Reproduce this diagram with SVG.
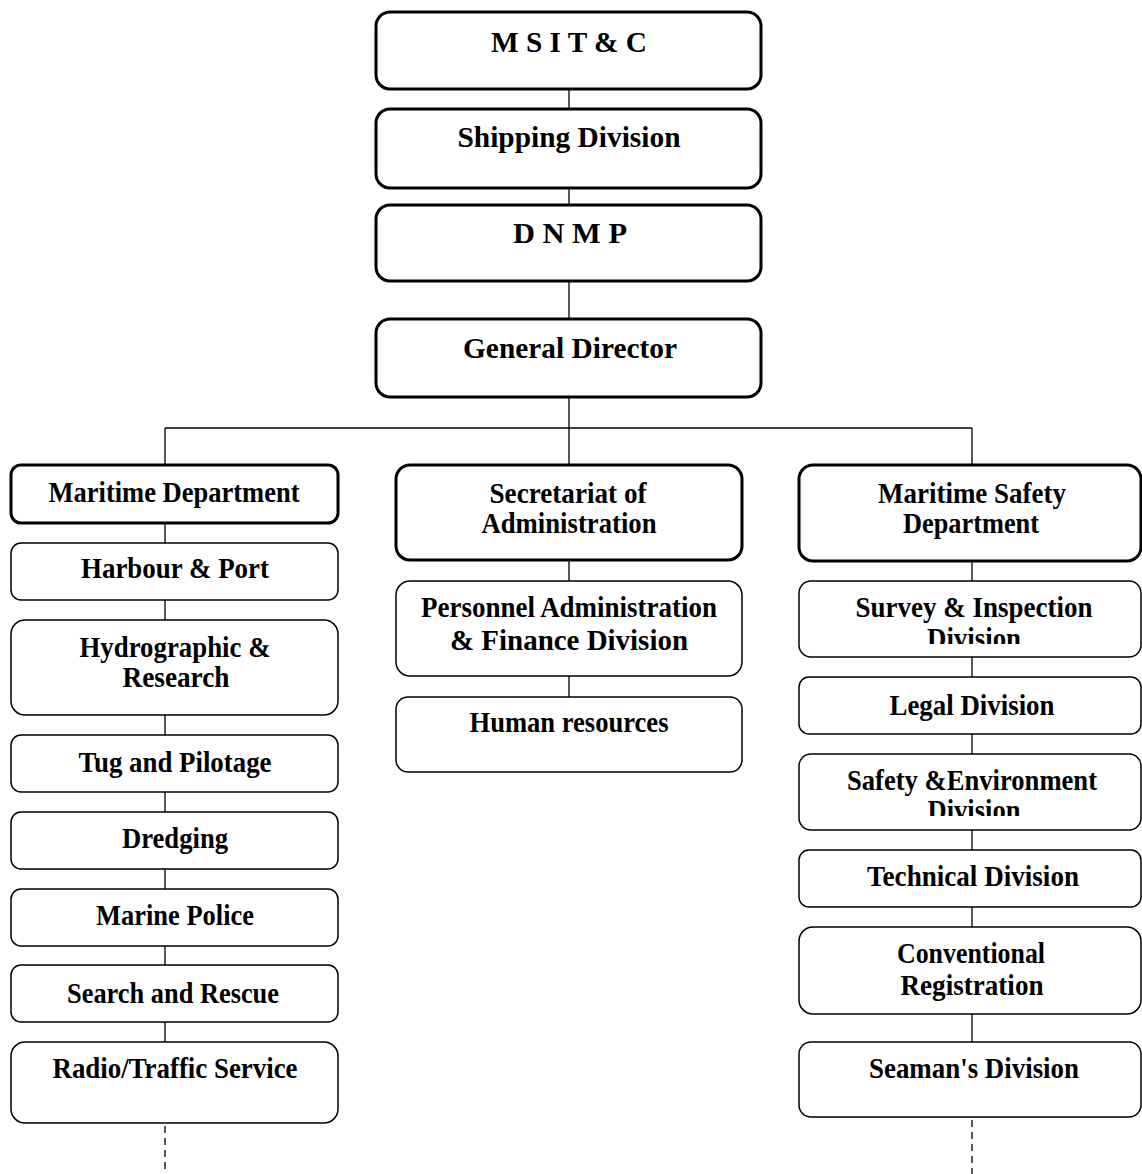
<svg xmlns="http://www.w3.org/2000/svg" width="1142" height="1174" viewBox="0 0 1142 1174">
  <style>
    .box { fill: #fff; stroke: #000; stroke-width: 1.5; }
    .main { stroke-width: 3; }
    .lbl { font-family: "Liberation Serif", "Times New Roman", serif; font-weight: bold; font-size: 29px; text-anchor: middle; fill: #000; }
    .big { font-size: 30px; }
    .ln { stroke: #000; stroke-width: 1.3; fill: none; }
    .dash { stroke-dasharray: 7 5; }
  </style>
  <defs>
    <clipPath id="clipSurvey"><rect x="799" y="581" width="343" height="63"/></clipPath>
    <clipPath id="clipSafety"><rect x="799" y="754" width="343" height="62"/></clipPath>
  </defs>
  <rect width="1142" height="1174" fill="#fff"/>

  <!-- connectors -->
  <g id="connectors">
    <line class="ln" x1="569" y1="89" x2="569" y2="109"/>
    <line class="ln" x1="569" y1="185" x2="569" y2="205"/>
    <line class="ln" x1="569" y1="281" x2="569" y2="319"/>
    <line class="ln" x1="569" y1="397" x2="569" y2="465"/>
    <line class="ln" x1="165" y1="428" x2="972" y2="428"/>
    <line class="ln" x1="165" y1="428" x2="165" y2="465"/>
    <line class="ln" x1="972" y1="428" x2="972" y2="465"/>
    <!-- left chain -->
    <line class="ln" x1="165" y1="523" x2="165" y2="543"/>
    <line class="ln" x1="165" y1="600" x2="165" y2="620"/>
    <line class="ln" x1="165" y1="715" x2="165" y2="735"/>
    <line class="ln" x1="165" y1="792" x2="165" y2="812"/>
    <line class="ln" x1="165" y1="869" x2="165" y2="889"/>
    <line class="ln" x1="165" y1="946" x2="165" y2="965"/>
    <line class="ln" x1="165" y1="1022" x2="165" y2="1042"/>
    <line class="ln dash" x1="165" y1="1126" x2="165" y2="1174"/>
    <!-- middle chain -->
    <line class="ln" x1="569" y1="560" x2="569" y2="581"/>
    <line class="ln" x1="569" y1="676" x2="569" y2="697"/>
    <!-- right chain -->
    <line class="ln" x1="972" y1="561" x2="972" y2="581"/>
    <line class="ln" x1="972" y1="657" x2="972" y2="677"/>
    <line class="ln" x1="972" y1="734" x2="972" y2="754"/>
    <line class="ln" x1="972" y1="830" x2="972" y2="850"/>
    <line class="ln" x1="972" y1="907" x2="972" y2="927"/>
    <line class="ln" x1="972" y1="1014" x2="972" y2="1042"/>
    <line class="ln dash" x1="972" y1="1120" x2="972" y2="1174"/>
  </g>

  <!-- top chain -->
  <g id="msitc">
    <rect class="box main" x="376" y="12" width="385" height="77" rx="14"/>
    <text class="lbl big" x="569" y="52" textLength="156" lengthAdjust="spacingAndGlyphs">M S I T &amp; C</text>
  </g>
  <g id="shipping">
    <rect class="box main" x="376" y="109" width="385" height="79" rx="14"/>
    <text class="lbl" x="569" y="147" textLength="223" lengthAdjust="spacingAndGlyphs">Shipping Division</text>
  </g>
  <g id="dnmp">
    <rect class="box main" x="376" y="205" width="385" height="76" rx="14"/>
    <text class="lbl big" x="570" y="243" textLength="114" lengthAdjust="spacingAndGlyphs">D N M P</text>
  </g>
  <g id="general-director">
    <rect class="box main" x="376" y="319" width="385" height="78" rx="14"/>
    <text class="lbl" x="570" y="358" textLength="214" lengthAdjust="spacingAndGlyphs">General Director</text>
  </g>

  <!-- left column -->
  <g id="maritime-dept">
    <rect class="box main" x="11" y="465" width="327" height="58" rx="10"/>
    <text class="lbl" x="174" y="502" textLength="251" lengthAdjust="spacingAndGlyphs">Maritime Department</text>
  </g>
  <g id="harbour">
    <rect class="box" x="11" y="543" width="327" height="57" rx="10"/>
    <text class="lbl" x="175" y="578" textLength="188" lengthAdjust="spacingAndGlyphs">Harbour &amp; Port</text>
  </g>
  <g id="hydrographic">
    <rect class="box" x="11" y="620" width="327" height="95" rx="14"/>
    <text class="lbl" x="175" y="657" textLength="191" lengthAdjust="spacingAndGlyphs">Hydrographic &amp;</text>
    <text class="lbl" x="176" y="687" textLength="107" lengthAdjust="spacingAndGlyphs">Research</text>
  </g>
  <g id="tug">
    <rect class="box" x="11" y="735" width="327" height="57" rx="10"/>
    <text class="lbl" x="175" y="772" textLength="193" lengthAdjust="spacingAndGlyphs">Tug and Pilotage</text>
  </g>
  <g id="dredging">
    <rect class="box" x="11" y="812" width="327" height="57" rx="10"/>
    <text class="lbl" x="175" y="848" textLength="106" lengthAdjust="spacingAndGlyphs">Dredging</text>
  </g>
  <g id="marine-police">
    <rect class="box" x="11" y="889" width="327" height="57" rx="10"/>
    <text class="lbl" x="175" y="925" textLength="158" lengthAdjust="spacingAndGlyphs">Marine Police</text>
  </g>
  <g id="search-rescue">
    <rect class="box" x="11" y="965" width="327" height="57" rx="10"/>
    <text class="lbl" x="173" y="1003" textLength="212" lengthAdjust="spacingAndGlyphs">Search and Rescue</text>
  </g>
  <g id="radio-traffic">
    <rect class="box" x="11" y="1042" width="327" height="81" rx="14"/>
    <text class="lbl" x="175" y="1078" textLength="245" lengthAdjust="spacingAndGlyphs">Radio/Traffic Service</text>
  </g>

  <!-- middle column -->
  <g id="secretariat">
    <rect class="box main" x="396" y="465" width="346" height="95" rx="14"/>
    <text class="lbl" x="568" y="503" textLength="157" lengthAdjust="spacingAndGlyphs">Secretariat of</text>
    <text class="lbl" x="569" y="533" textLength="175" lengthAdjust="spacingAndGlyphs">Administration</text>
  </g>
  <g id="personnel">
    <rect class="box" x="396" y="581" width="346" height="95" rx="14"/>
    <text class="lbl" x="569" y="617" textLength="296" lengthAdjust="spacingAndGlyphs">Personnel Administration</text>
    <text class="lbl" x="569" y="650" textLength="238" lengthAdjust="spacingAndGlyphs">&amp; Finance Division</text>
  </g>
  <g id="human-resources">
    <rect class="box" x="396" y="697" width="346" height="75" rx="12"/>
    <text class="lbl" x="569" y="732" textLength="199" lengthAdjust="spacingAndGlyphs">Human resources</text>
  </g>

  <!-- right column -->
  <g id="maritime-safety">
    <rect class="box main" x="799" y="465" width="342" height="96" rx="14"/>
    <text class="lbl" x="972" y="503" textLength="188" lengthAdjust="spacingAndGlyphs">Maritime Safety</text>
    <text class="lbl" x="971" y="533" textLength="136" lengthAdjust="spacingAndGlyphs">Department</text>
  </g>
  <g id="survey">
    <rect class="box" x="799" y="581" width="342" height="76" rx="12"/>
    <g clip-path="url(#clipSurvey)">
      <text class="lbl" x="974" y="617" textLength="237" lengthAdjust="spacingAndGlyphs">Survey &amp; Inspection</text>
      <text class="lbl" x="974" y="648" textLength="94" lengthAdjust="spacingAndGlyphs">Division</text>
    </g>
  </g>
  <g id="legal">
    <rect class="box" x="799" y="677" width="342" height="57" rx="10"/>
    <text class="lbl" x="972" y="715" textLength="165" lengthAdjust="spacingAndGlyphs">Legal Division</text>
  </g>
  <g id="safety-env">
    <rect class="box" x="799" y="754" width="342" height="76" rx="12"/>
    <g clip-path="url(#clipSafety)">
      <text class="lbl" x="972" y="790" textLength="250" lengthAdjust="spacingAndGlyphs">Safety &amp;Environment</text>
      <text class="lbl" x="974" y="820" textLength="93" lengthAdjust="spacingAndGlyphs">Division</text>
    </g>
  </g>
  <g id="technical">
    <rect class="box" x="799" y="850" width="342" height="57" rx="10"/>
    <text class="lbl" x="973" y="886" textLength="212" lengthAdjust="spacingAndGlyphs">Technical Division</text>
  </g>
  <g id="conventional">
    <rect class="box" x="799" y="927" width="342" height="87" rx="14"/>
    <text class="lbl" x="971" y="963" textLength="148" lengthAdjust="spacingAndGlyphs">Conventional</text>
    <text class="lbl" x="972" y="995" textLength="143" lengthAdjust="spacingAndGlyphs">Registration</text>
  </g>
  <g id="seaman">
    <rect class="box" x="799" y="1042" width="342" height="75" rx="12"/>
    <text class="lbl" x="974" y="1078" textLength="210" lengthAdjust="spacingAndGlyphs">Seaman's Division</text>
  </g>
</svg>
